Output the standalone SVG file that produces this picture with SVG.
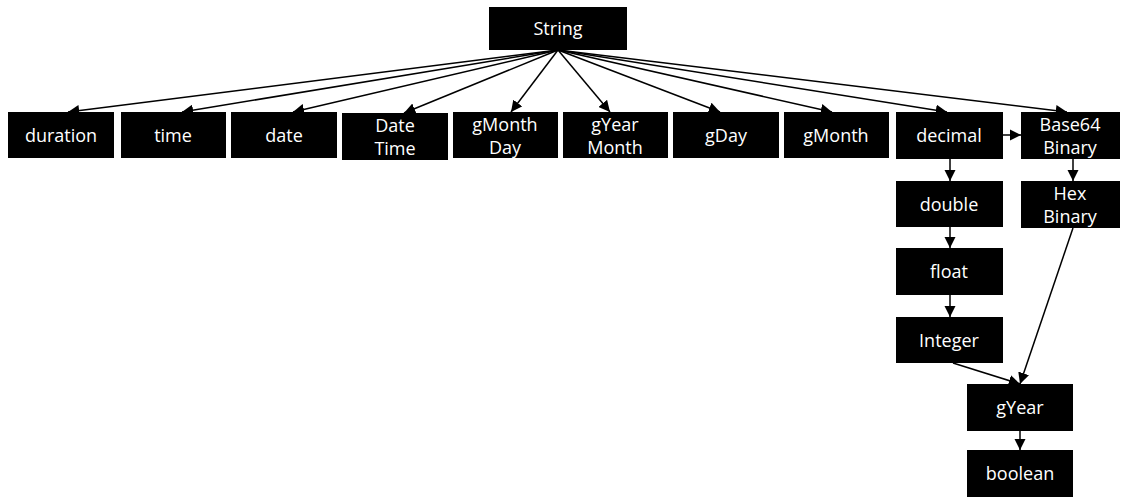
<svg xmlns="http://www.w3.org/2000/svg" width="1124" height="498" viewBox="0 0 1124 498">
<style>
.n rect{fill:#000}
.n text{fill:#fff;font-family:"Open Sans","Liberation Sans",sans-serif;font-size:18px;text-anchor:middle}
.e line{stroke:#000;stroke-width:1.5;marker-end:url(#ah)}
</style>
<defs>
<marker id="ah" viewBox="0 0 10 10" refX="10" refY="5" markerWidth="7.5" markerHeight="7.5" orient="auto" markerUnits="strokeWidth">
<path d="M0,0 L10,5 L0,10 z" fill="#000"/>
</marker>
</defs>
<rect width="1124" height="498" fill="#fff"/>
<g class="e">
<line x1="558" y1="50" x2="68" y2="112"/>
<line x1="558" y1="50" x2="182" y2="112"/>
<line x1="558" y1="50" x2="293" y2="112"/>
<line x1="558" y1="50" x2="404" y2="113"/>
<line x1="558" y1="50" x2="511" y2="112"/>
<line x1="558" y1="50" x2="610" y2="112"/>
<line x1="558" y1="50" x2="720" y2="112"/>
<line x1="558" y1="50" x2="832" y2="112"/>
<line x1="558" y1="50" x2="947" y2="112"/>
<line x1="558" y1="50" x2="1067" y2="112"/>
<line x1="1003" y1="135" x2="1021" y2="135"/>
<line x1="950" y1="159" x2="950" y2="181"/>
<line x1="1073" y1="159" x2="1073" y2="181"/>
<line x1="950" y1="227" x2="950" y2="248"/>
<line x1="950" y1="295" x2="950" y2="317"/>
<line x1="953" y1="363" x2="1020" y2="384"/>
<line x1="1073" y1="228" x2="1020" y2="384"/>
<line x1="1020" y1="431" x2="1020" y2="450"/>
</g>
<g id="String" class="n"><rect x="489" y="7" width="138" height="43"/><text x="558" y="35">String</text></g>
<g id="duration" class="n"><rect x="8" y="112" width="106" height="46"/><text x="61" y="142">duration</text></g>
<g id="time" class="n"><rect x="121" y="112" width="105" height="46"/><text x="173" y="142">time</text></g>
<g id="date" class="n"><rect x="231" y="112" width="106" height="46"/><text x="284" y="142">date</text></g>
<g id="DateTime" class="n"><rect x="342" y="113" width="106" height="47"/><text x="395" y="132">Date</text><text x="395" y="155">Time</text></g>
<g id="gMonthDay" class="n"><rect x="453" y="112" width="105" height="46"/><text x="505" y="131">gMonth</text><text x="505" y="154">Day</text></g>
<g id="gYearMonth" class="n"><rect x="563" y="112" width="105" height="46"/><text x="615" y="131">gYear</text><text x="615" y="154">Month</text></g>
<g id="gDay" class="n"><rect x="673" y="112" width="106" height="46"/><text x="726" y="142">gDay</text></g>
<g id="gMonth" class="n"><rect x="784" y="112" width="105" height="46"/><text x="836" y="142">gMonth</text></g>
<g id="decimal" class="n"><rect x="896" y="112" width="107" height="47"/><text x="949" y="142">decimal</text></g>
<g id="Base64Binary" class="n"><rect x="1021" y="112" width="99" height="47"/><text x="1070" y="131">Base64</text><text x="1070" y="154">Binary</text></g>
<g id="double" class="n"><rect x="896" y="181" width="107" height="46"/><text x="949" y="211">double</text></g>
<g id="HexBinary" class="n"><rect x="1021" y="181" width="99" height="47"/><text x="1070" y="200">Hex</text><text x="1070" y="223">Binary</text></g>
<g id="float" class="n"><rect x="896" y="248" width="107" height="47"/><text x="949" y="278">float</text></g>
<g id="Integer" class="n"><rect x="896" y="317" width="107" height="46"/><text x="949" y="347">Integer</text></g>
<g id="gYear" class="n"><rect x="967" y="384" width="106" height="47"/><text x="1020" y="414">gYear</text></g>
<g id="boolean" class="n"><rect x="967" y="450" width="106" height="47"/><text x="1020" y="480">boolean</text></g>
</svg>
